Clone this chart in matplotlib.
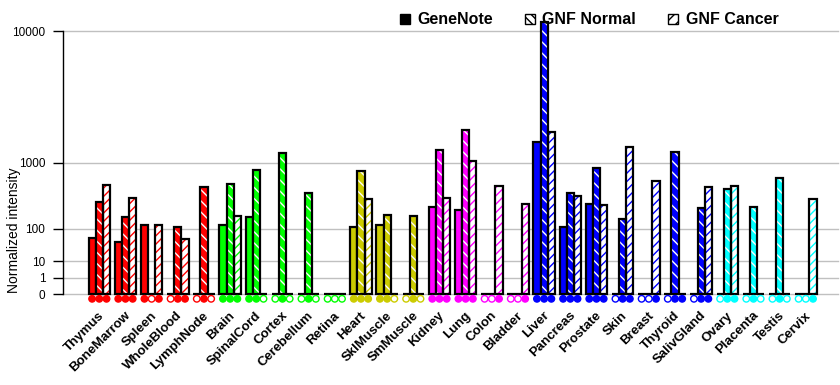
import numpy as np
import matplotlib.pyplot as plt
from matplotlib.patches import Patch
from matplotlib.transforms import blended_transform_factory, ScaledTranslation

# tissues and their group
tissues = ['Thymus', 'BoneMarrow', 'Spleen', 'WholeBlood', 'LymphNode',
           'Brain', 'SpinalCord', 'Cortex', 'Cerebellum', 'Retina',
           'Heart', 'SklMuscle', 'SmMuscle',
           'Kidney', 'Lung', 'Colon', 'Bladder',
           'Liver', 'Pancreas', 'Prostate', 'Skin', 'Breast', 'Thyroid', 'SalivGland',
           'Ovary', 'Placenta', 'Testis', 'Cervix']
groups = ['blood'] * 5 + ['neural'] * 5 + ['muscle'] * 3 + ['epith'] * 4 + ['gland'] * 7 + ['repro'] * 4

# normalized intensities
genenote = [60, 47, 118, 0, 0, 118, 171, 0, 0, 0, 106, 118, 0, 259, 231, 0, 0,
            1636, 109, 289, 0, 0, 0, 0, 0, 0, 0, 0]
gnf_normal = [304, 173, 0, 107, 507, 561, 835, 1276, 424, 0, 812, 188, 180, 1368, 2100, 0, 0,
              11200, 415, 880, 156, 0, 1307, 243, 481, 259, 668, 0]
gnf_cancer = [534, 357, 118, 57, 0, 180, 0, 0, 0, 0, 346, 0, 0, 357, 1037, 528, 289,
              2020, 382, 279, 1465, 602, 0, 512, 528, 0, 0, 346]

# detection calls (filled / open markers under the axis)
genenote_det = [1, 1, 1, 0, 0, 1, 1, 0, 0, 0, 1, 1, 0, 1, 1, 0, 0, 1, 1, 1, 0, 0, 0, 0, 0, 0, 0, 0]
normal_det = [1, 1, 0, 1, 1, 1, 1, 1, 1, 0, 1, 1, 1, 1, 1, 0, 0, 1, 1, 1, 1, 0, 1, 1, 1, 1, 1, 0]
cancer_det = [1, 1, 1, 1, 0, 1, 0, 0, 0, 0, 1, 0, 0, 1, 1, 1, 1, 1, 1, 1, 1, 1, 1, 1, 1, 0, 0, 1]

yticks = [0, 1, 10, 100, 1000, 10000]

group_colors = {'blood': '#ff0000', 'neural': '#00ff00', 'muscle': '#cccc00',
                'epith': '#ff00ff', 'gland': '#0000ff', 'repro': '#00ffff'}
colors = [group_colors[g] for g in groups]

plt.rcParams['font.family'] = ['Liberation Sans', 'DejaVu Sans']
plt.rcParams['hatch.linewidth'] = 1.0

# chart uses a power scale: every decade doubles the height
P = np.log10(2)


def fwd(v):
    return np.power(np.clip(v, 0, None), P)


def inv(v):
    return np.power(np.clip(v, 0, None), 1 / P)


fig = plt.figure(figsize=(8.4, 3.85), dpi=100)
ax = fig.add_axes([63.3 / 840, 1 - 294.3 / 385, 774.7 / 840, 263 / 385])
ax.set_yscale('function', functions=(fwd, inv))
ax.set_ylim(0, 10000)
ax.set_xlim(-1.376, 28.23)

x = np.arange(len(tissues))
w = 0.275

for v in yticks:
    ax.axhline(v, color='#c0c0c0', lw=1, zorder=0, clip_on=False)

# GeneNote: solid
ax.bar(x - w, genenote, w, color=colors, edgecolor='black', lw=1.6, clip_on=False, zorder=2)
# GNF normal: colour with thin white hatching
ax.bar(x, gnf_normal, w, color=colors, edgecolor='white', hatch='\\\\\\', lw=0, clip_on=False, zorder=2)
ax.bar(x, gnf_normal, w, facecolor='none', edgecolor='black', lw=1.6, clip_on=False, zorder=3)
# GNF cancer: white with coloured stripes
ax.bar(x + w, gnf_cancer, w, color='white', edgecolor=colors, hatch='////', lw=0, clip_on=False, zorder=2)
ax.bar(x + w, gnf_cancer, w, facecolor='none', edgecolor='black', lw=1.6, clip_on=False, zorder=3)

# detection markers below the axis
trans = blended_transform_factory(ax.transData, ax.transAxes)
for off, det in zip([-w, 0, w], [genenote_det, normal_det, cancer_det]):
    fc = [c if d else 'white' for c, d in zip(colors, det)]
    ax.scatter(x + off, [-4.5 / 263] * len(x), s=22, marker='o', facecolors=fc,
               edgecolors=colors, linewidths=1, transform=trans, clip_on=False, zorder=4)

ax.set_yticks(yticks)
ax.set_yticklabels([str(v) for v in yticks])
ax.tick_params(axis='y', length=7.2, width=1, labelsize=8.5, pad=5.8)
ax.set_ylabel('Normalized intensity', fontsize=10)
ax.yaxis.set_label_coords(-0.055, 0.245)

ax.set_xticks(x)
ax.set_xticklabels(tissues, rotation=45, ha='right', va='center', rotation_mode='anchor',
                   fontweight='bold', fontsize=9.5)
ax.tick_params(axis='x', length=0, pad=14)
for lab in ax.get_xticklabels():
    lab.set_transform(lab.get_transform() + ScaledTranslation(3 / 100, 0, fig.dpi_scale_trans))

for s in ['top', 'right', 'bottom']:
    ax.spines[s].set_visible(False)
ax.spines['left'].set_linewidth(1)

handles = [Patch(facecolor='black', edgecolor='black'),
           Patch(facecolor='white', edgecolor='black', hatch='\\\\\\\\'),
           Patch(facecolor='white', edgecolor='black', hatch='///')]
fig.legend(handles, ['GeneNote', 'GNF Normal', 'GNF Cancer'], loc='center',
           bbox_to_anchor=(589 / 840, 1 - 20 / 385), ncol=3, frameon=False,
           handlelength=0.65, handleheight=0.65, handletextpad=0.45, columnspacing=2.0,
           borderpad=0, prop={'weight': 'bold', 'size': 11.5})

fig.savefig('out.png', dpi=100)
